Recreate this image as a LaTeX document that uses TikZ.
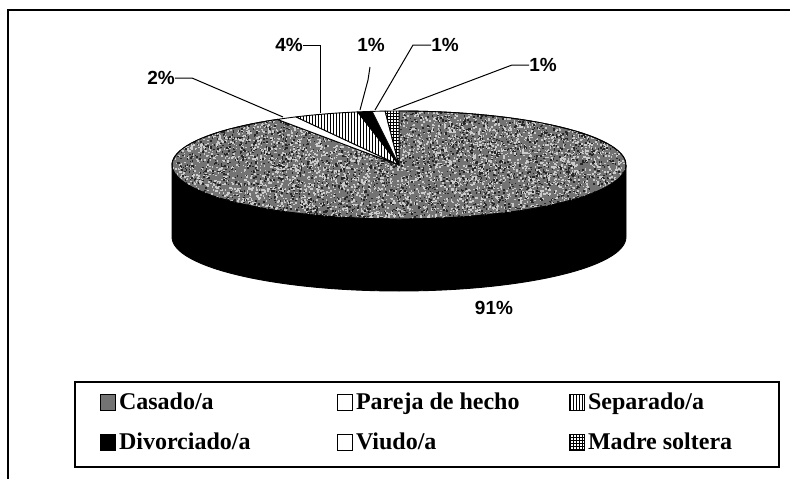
\documentclass[tikz,border=0pt]{standalone}
\usepackage{fontspec}
\setmainfont{Liberation Serif}
\newfontfamily\pctfont{Liberation Sans}
\usetikzlibrary{patterns,calc}
\begin{document}
\begin{tikzpicture}[x=1pt,y=1pt,
  pct/.style={font=\pctfont\bfseries\fontsize{19}{21}\selectfont, inner sep=0pt},
  leg/.style={font=\bfseries\fontsize{24}{26}\selectfont, inner sep=0pt, anchor=base west},
  icon/.style={draw=black, line width=0.8pt, minimum width=15pt, minimum height=16pt, inner sep=0pt, anchor=west},
  lead/.style={line width=1pt},
  slicestyle/.style={draw=black, line width=0.9pt, line join=round},
  casado/.style={fill=black!55}]
\useasboundingbox (0,0) rectangle (790,-479);
% outer frame
\draw[line width=2pt] (790,-10) -- (8,-10) -- (8,-479);
% pie
\coordinate (C) at (399,-165);
\def\rx{227}\def\ry{54}\def\dep{72}
\filldraw[slicestyle, fill=black] ($(C)+(-\rx,0)$) -- ++(0,-\dep) arc (180:360:\rx pt and \ry pt) -- ++(0,\dep) arc (0:-180:\rx pt and \ry pt) -- cycle;
\newcommand\pieslice[3]{%
  \fill[white] (C) -- ($(C)+(#1:\rx pt and \ry pt)$) arc (#1:#2:\rx pt and \ry pt) -- cycle;
  \filldraw[slicestyle,#3] (C) -- ($(C)+(#1:\rx pt and \ry pt)$) arc (#1:#2:\rx pt and \ry pt) -- cycle;}
\pieslice{122.4}{450}{casado}
% speckle texture of the main slice
\begin{scope}
  \clip (C) -- ($(C)+(122.4:\rx pt and \ry pt)$) arc (122.4:450:\rx pt and \ry pt) -- cycle;
  \pgfmathsetseed{7}
  \foreach \i in {1,...,5200} {
    \pgfmathsetmacro\xx{399+227*rand}\pgfmathsetmacro\yy{-165+54*rand}
    \fill[white!80!black] (\xx,\yy) rectangle ++(1.6,1.6);
  }
  \foreach \i in {1,...,3000} {
    \pgfmathsetmacro\xx{399+227*rand}\pgfmathsetmacro\yy{-165+54*rand}
    \fill[black!85] (\xx,\yy) rectangle ++(1.5,1.5);
  }
\end{scope}
\draw[slicestyle] (C) -- ($(C)+(122.4:\rx pt and \ry pt)$) arc (122.4:450:\rx pt and \ry pt) -- cycle;
\pieslice{117}{122.4}{fill=white}
\pieslice{100.5}{117}{pattern=vertical lines}
\pieslice{96.8}{100.5}{fill=black}
\pieslice{93.5}{96.8}{fill=white}
\pieslice{90}{93.5}{pattern=grid}
% labels
\node[pct] (l2) at (161,-78) {2\%};
\node[pct] (l4) at (289,-45) {4\%};
\node[pct] (l1a) at (371,-45) {1\%};
\node[pct] (l1b) at (445,-45) {1\%};
\node[pct] (l1c) at (543,-65) {1\%};
\node[pct] (l91) at (494,-308) {91\%};
% leader lines
\coordinate (p2a) at (192,-78);   \coordinate (p2b) at (283,-117);
\coordinate (p4a) at (320,-45);   \coordinate (p4b) at (320,-113);
\coordinate (pAa) at (370,-67);   \coordinate (pAb) at (368,-80);  \coordinate (pAc) at (360,-110);
\coordinate (pBa) at (413,-45);   \coordinate (pBb) at (375,-110);
\coordinate (pCa) at (512,-65);   \coordinate (pCb) at (393,-110);
\draw[lead] (l2.east) -- (p2a) -- (p2b);
\draw[lead] (l4.east) -- (p4a) -- (p4b);
\draw[lead] (pAa) -- (pAb) -- (pAc);
\draw[lead] (l1b.west) -- (pBa) -- (pBb);
\draw[lead] (l1c.west) -- (pCa) -- (pCb);
% legend
\draw[line width=1.2pt] (75,-382) rectangle (779,-467);
\node[icon, casado] (i1) at (100,-402) {};
\node[icon, fill=white] (i2) at (337,-402) {};
\node[icon, pattern=vertical lines] (i3) at (569,-402) {};
\node[icon, fill=black] (i4) at (100,-442) {};
\node[icon, fill=white] (i5) at (337,-442) {};
\node[icon, pattern=grid] (i6) at (569,-442) {};
\node[leg] (t1) at ($(i1.south east)+(3,1)$) {Casado/a};
\node[leg] (t2) at ($(i2.south east)+(3,1)$) {Pareja de hecho};
\node[leg] (t3) at ($(i3.south east)+(3,1)$) {Separado/a};
\node[leg] (t4) at ($(i4.south east)+(3,1)$) {Divorciado/a};
\node[leg] (t5) at ($(i5.south east)+(3,1)$) {Viudo/a};
\node[leg] (t6) at ($(i6.south east)+(3,1)$) {Madre soltera};
\end{tikzpicture}
\end{document}
